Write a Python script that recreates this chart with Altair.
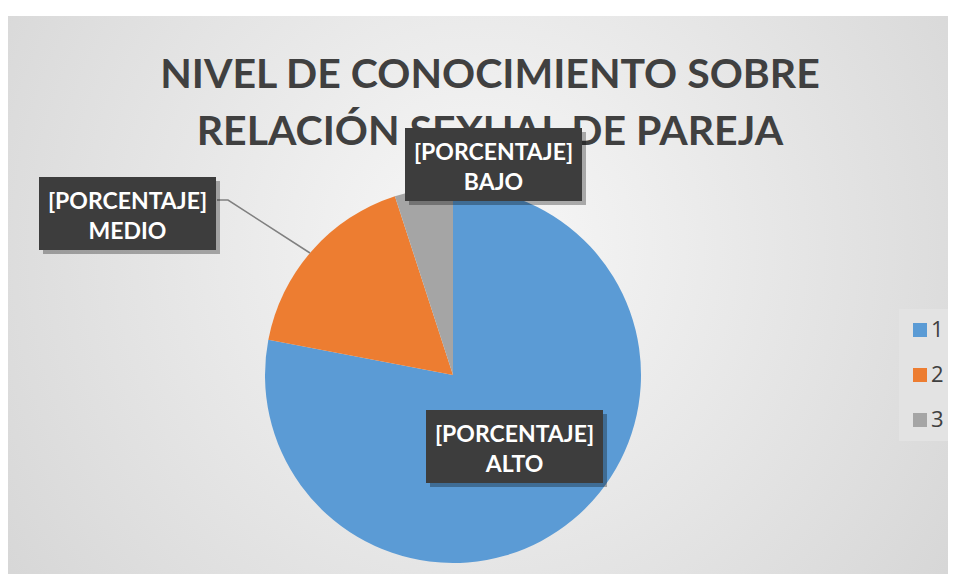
import altair as alt
import pandas as pd

# ---- data ----
categories = ["1", "2", "3"]
values = [78, 17, 5]
levels = ["ALTO", "MEDIO", "BAJO"]
colors = ["#5B9BD5", "#ED7D31", "#A5A5A5"]
title_lines = ["NIVEL DE CONOCIMIENTO SOBRE", "RELACIÓN SEXUAL DE PAREJA"]
placeholder = "[PORCENTAJE]"

# ---- layout ----
W, H = 940, 558
CX, CY, R = 445, 359, 188
box_x = [418, 31, 397]
box_y = [394, 161, 112]
BW, BH = 177, 73
leader_x = [209, 220, 302]
leader_y = [184, 184, 237]

FONT = "Lato, Open Sans, sans-serif"
XS = alt.Scale(domain=[0, W], range=[0, W], nice=False, zero=False)
YS = alt.Scale(domain=[0, H], range=[0, H], nice=False, zero=False)

pie_df = pd.DataFrame({"cat": categories, "val": values, "ord": [0, 1, 2]})
lab_df = pd.DataFrame({
    "lvl": levels,
    "x0": box_x,
    "x1": [v + BW for v in box_x],
    "y0": box_y,
    "y1": [v + BH for v in box_y],
    "sx0": [v + 4 for v in box_x],
    "sx1": [v + BW + 4 for v in box_x],
    "sy0": [v + 4 for v in box_y],
    "sy1": [v + BH + 4 for v in box_y],
    "tx": [v + BW / 2 for v in box_x],
    "t1": [v + 32 for v in box_y],
    "t2": [v + 62 for v in box_y],
    "ph": [placeholder] * 3,
})
lead_df = pd.DataFrame({"px": leader_x, "py": leader_y, "o": [0, 1, 2]})
title_df = pd.DataFrame({"t": title_lines, "ty": [72, 129], "tx": [482, 482]})

bg = alt.Chart(pd.DataFrame({"a": [0]})).mark_rect(
    fill=alt.RadialGradient(
        gradient="radial", x1=0.5, y1=0.45, r1=0, x2=0.5, y2=0.45, r2=0.75,
        stops=[alt.GradientStop(offset=0, color="#f8f8f8"),
               alt.GradientStop(offset=1, color="#cfcfcf")],
    )
).encode(x=alt.value(0), x2=alt.value(W), y=alt.value(0), y2=alt.value(H))

pie = alt.Chart(pie_df).mark_arc(outerRadius=R).encode(
    theta=alt.Theta("val:Q", stack=True),
    color=alt.Color(
        "cat:N",
        scale=alt.Scale(domain=categories, range=colors),
        legend=alt.Legend(
            title=None, orient="none", legendX=891, legendY=293,
            symbolType="square", symbolSize=196, symbolStrokeWidth=0,
            labelFontSize=22, labelFont="Open Sans", labelColor="#404040",
            fillColor="#e3e3e3", padding=10, rowPadding=23, labelOffset=0,
        ),
    ),
    order=alt.Order("ord:Q"),
    x=alt.value(CX),
    y=alt.value(CY),
)

leader = alt.Chart(lead_df).mark_line(color="#808080", strokeWidth=1.5).encode(
    x=alt.X("px:Q", scale=XS, axis=None),
    y=alt.Y("py:Q", scale=YS, axis=None),
    order="o:Q",
)

shadow = alt.Chart(lab_df).mark_rect(color="#000000", opacity=0.3).encode(
    x=alt.X("sx0:Q", scale=XS, axis=None), x2="sx1:Q",
    y=alt.Y("sy0:Q", scale=YS, axis=None), y2="sy1:Q",
)
boxes = alt.Chart(lab_df).mark_rect(color="#3d3d3d").encode(
    x=alt.X("x0:Q", scale=XS, axis=None), x2="x1:Q",
    y=alt.Y("y0:Q", scale=YS, axis=None), y2="y1:Q",
)
txt1 = alt.Chart(lab_df).mark_text(
    font=FONT, fontSize=23, fontWeight="bold", color="white", baseline="alphabetic"
).encode(
    x=alt.X("tx:Q", scale=XS, axis=None),
    y=alt.Y("t1:Q", scale=YS, axis=None),
    text="ph:N",
)
txt2 = alt.Chart(lab_df).mark_text(
    font=FONT, fontSize=23, fontWeight="bold", color="white", baseline="alphabetic"
).encode(
    x=alt.X("tx:Q", scale=XS, axis=None),
    y=alt.Y("t2:Q", scale=YS, axis=None),
    text="lvl:N",
)
title = alt.Chart(title_df).mark_text(
    font=FONT, fontSize=41, fontWeight="bold", color="#404040", baseline="alphabetic"
).encode(
    x=alt.X("tx:Q", scale=XS, axis=None),
    y=alt.Y("ty:Q", scale=YS, axis=None),
    text="t:N",
)

chart = alt.layer(bg, pie, title, leader, shadow, boxes, txt1, txt2).properties(
    width=W, height=H,
    padding={"top": 8, "left": 0, "right": 0, "bottom": 0},
    autosize=alt.AutoSizeParams(type="none"),
    background="white",
).configure_view(stroke=None)

chart.save("out.html", embed_options={"renderer": "svg", "actions": False})
